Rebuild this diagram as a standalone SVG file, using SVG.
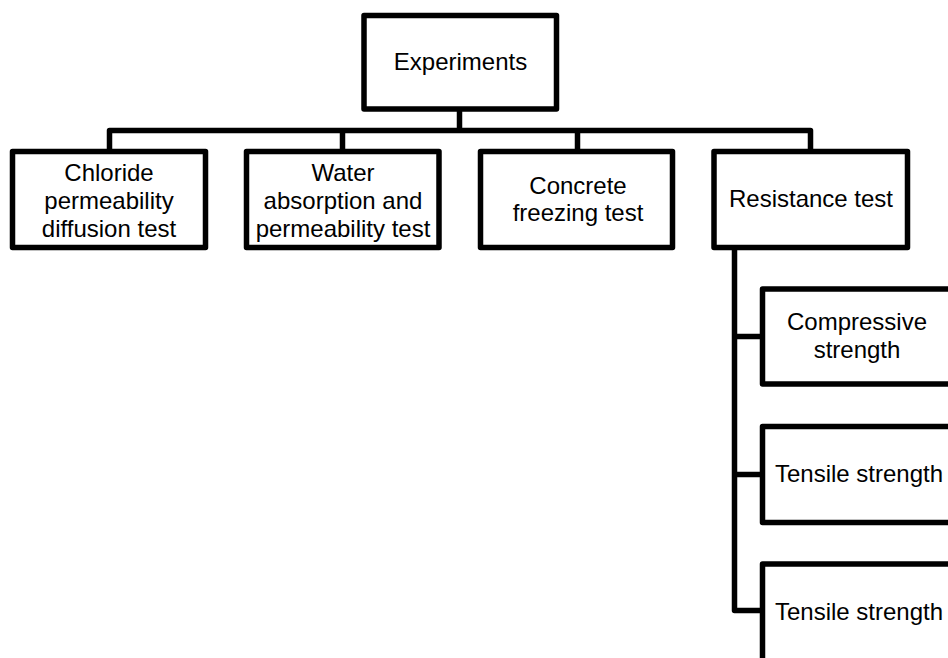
<svg xmlns="http://www.w3.org/2000/svg" width="948" height="658" viewBox="0 0 948 658">
<style>
.box{fill:#fff;stroke:#000;stroke-width:5.5;stroke-linejoin:round}
.ln{fill:none;stroke:#000;stroke-width:5.5;stroke-linejoin:round}
text{font-family:"Liberation Sans",Arial,sans-serif;font-size:24px;fill:#000;text-anchor:middle}
</style>
<rect width="948" height="658" fill="#fff"/>
<g id="connectors">
<line class="ln" x1="459.5" y1="109" x2="459.5" y2="130.5"/>
<polyline class="ln" points="109.5,151.5 109.5,130.5 810.5,130.5 810.5,151.5"/>
<line class="ln" x1="342.5" y1="130.5" x2="342.5" y2="151.5"/>
<line class="ln" x1="577.5" y1="130.5" x2="577.5" y2="151.5"/>
<polyline class="ln" points="734.5,247.5 734.5,610.5 762.5,610.5"/>
<line class="ln" x1="734.5" y1="336.5" x2="762.5" y2="336.5"/>
<line class="ln" x1="734.5" y1="474.5" x2="762.5" y2="474.5"/>
</g>
<g id="experiments">
<rect class="box" x="364" y="15.5" width="192.5" height="93.5"/>
<text x="460.5" y="70">Experiments</text>
</g>
<g id="chloride">
<rect class="box" x="12.5" y="151.5" width="193" height="96"/>
<text x="109" y="181">Chloride</text>
<text x="109" y="209.3">permeability</text>
<text x="109" y="237.3">diffusion test</text>
</g>
<g id="water">
<rect class="box" x="246.5" y="151.5" width="192.5" height="96"/>
<text x="343" y="181">Water</text>
<text x="343" y="209.3">absorption and</text>
<text x="343" y="237.3">permeability test</text>
</g>
<g id="concrete">
<rect class="box" x="480.5" y="151.5" width="192" height="96"/>
<text x="578" y="194">Concrete</text>
<text x="578" y="220.7">freezing test</text>
</g>
<g id="resistance">
<rect class="box" x="714" y="151.5" width="193.5" height="96"/>
<text x="811" y="207.3">Resistance test</text>
</g>
<g id="compressive">
<rect class="box" x="762.5" y="289" width="194" height="95"/>
<text x="857" y="330">Compressive</text>
<text x="857" y="358.3">strength</text>
</g>
<g id="tensile1">
<rect class="box" x="762.5" y="426.5" width="194" height="96"/>
<text x="859" y="481.7">Tensile strength</text>
</g>
<g id="tensile2">
<rect class="box" x="762.5" y="564" width="194" height="100"/>
<text x="859" y="620">Tensile strength</text>
</g>
</svg>
